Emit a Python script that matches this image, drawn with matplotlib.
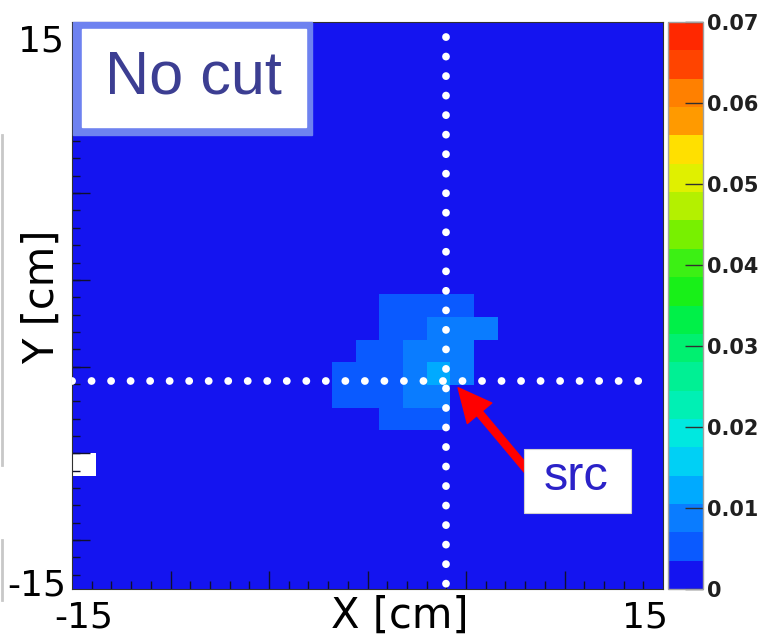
import numpy as np
import matplotlib as mpl
mpl.use('Agg')
import matplotlib.pyplot as plt
from matplotlib.colors import ListedColormap, BoundaryNorm
from matplotlib.patches import Rectangle
from matplotlib.lines import Line2D
from matplotlib.ticker import NullLocator

W, H = 759, 640

# 25 x 25 bins over [-15, 15] cm
edges = np.linspace(-15, 15, 26)

# content of the flat part of the map and of the one empty bin
background = 0.001
empty_x = [-14.4]
empty_y = [-8.4]

# raised bins near the source (bin centres in cm, content)
cell_x = [1.2, 2.4, 3.6, 4.8,
          1.2, 2.4, 3.6, 4.8, 6.0,
          0.0, 1.2, 2.4, 3.6, 4.8,
          -1.2, 0.0, 1.2, 2.4, 3.6, 4.8,
          -1.2, 0.0, 1.2, 2.4, 3.6,
          1.2, 2.4, 3.6]
cell_y = [0.0, 0.0, 0.0, 0.0,
          -1.2, -1.2, -1.2, -1.2, -1.2,
          -2.4, -2.4, -2.4, -2.4, -2.4,
          -3.6, -3.6, -3.6, -3.6, -3.6, -3.6,
          -4.8, -4.8, -4.8, -4.8, -4.8,
          -6.0, -6.0, -6.0]
cell_val = [0.005, 0.005, 0.005, 0.005,
            0.005, 0.005, 0.0085, 0.0085, 0.0085,
            0.005, 0.005, 0.0085, 0.0085, 0.0085,
            0.005, 0.005, 0.005, 0.0085, 0.0125, 0.0085,
            0.005, 0.005, 0.005, 0.0085, 0.0085,
            0.005, 0.005, 0.005]

src_x, src_y = 4.0, -4.0

palette = ['#1414f0', '#0a5aff', '#0a7cff', '#00aaff', '#00d0f5',
           '#00e8e0', '#00f0b4', '#00f094', '#00f070', '#00f048',
           '#18f018', '#3cf014', '#78f000', '#b4f000', '#e0f000',
           '#ffe000', '#ff9a00', '#ff8000', '#ff4400', '#ff2800']
levels = np.linspace(0, 0.07, 21)
cbar_ticks = [0, 0.01, 0.02, 0.03, 0.04, 0.05, 0.06, 0.07]
cbar_labels = ['0', '0.01', '0.02', '0.03', '0.04', '0.05', '0.06', '0.07']


def fx(px):
    return px / W


def fy(py):
    return 1 - py / H


plt.rcParams['font.family'] = 'DejaVu Sans'

hist = np.full((len(edges) - 1, len(edges) - 1), background)
for x, y, v in zip(cell_x, cell_y, cell_val):
    i = np.searchsorted(edges, x) - 1
    j = np.searchsorted(edges, y) - 1
    hist[j, i] = v
for x, y in zip(empty_x, empty_y):
    hist[np.searchsorted(edges, y) - 1, np.searchsorted(edges, x) - 1] = 0
hist = np.ma.masked_equal(hist, 0)

cmap = ListedColormap(palette)
norm = BoundaryNorm(levels, cmap.N)

fig = plt.figure(figsize=(W / 100, H / 100), dpi=100)
ax = fig.add_axes([fx(72), fy(589), fx(663) - fx(72), fy(22) - fy(589)])
cax = fig.add_axes([fx(668), fy(589), fx(703) - fx(668), fy(22) - fy(589)])

ax.set_facecolor('white')
mesh = ax.pcolormesh(edges, edges, hist, cmap=cmap, norm=norm)
ax.set_xlim(-15, 15)
ax.set_ylim(-15, 15)

# ticks drawn inside the frame, no labels on them
ax.set_xticks(np.arange(-10, 11, 5))
ax.set_xticks(np.arange(-14, 15, 1), minor=True)
y_major = [-12.41, -7.83, -3.25, 1.35, 5.95, 10.54]
ax.set_yticks(y_major)
ax.set_yticks(np.arange(-14.25, 15, 0.918), minor=True)
ax.tick_params(which='both', direction='in', labelbottom=False,
               labelleft=False, color='#101030', width=1)
ax.tick_params(which='major', length=13)
ax.tick_params(which='minor', length=6)
for s in ax.spines.values():
    s.set_color('#303030')
    s.set_linewidth(0.8)

# dotted cross through the source position
dots = dict(color='white', lw=5.6, linestyle=(0, (0.01, 2.5)),
            dash_capstyle='round', zorder=3)
ax.plot([src_x, src_x], [14.2, -15], **dots)
ax.plot([-15, 14.0], [src_y, src_y], **dots)

ax.annotate('', xy=(4.6, -4.35), xytext=(8.5, -9.2),
            arrowprops=dict(arrowstyle='simple,head_length=1.2,head_width=1.15,tail_width=0.26',
                            color='#ff0000', mutation_scale=20,
                            shrinkA=0, shrinkB=0), zorder=4)

# colour scale
cb = fig.colorbar(mesh, cax=cax, ticks=cbar_ticks, spacing='proportional')
cax.yaxis.set_minor_locator(NullLocator())
cb.set_ticklabels(cbar_labels, fontweight='bold', color='#202020')
cb.outline.set_edgecolor('#a0a0a0')
cb.outline.set_linewidth(1)
cax.tick_params(direction='in', length=13, width=1, color='#303030',
                labelsize=15, pad=3)

# "No cut" label box
fig.patches.append(Rectangle((fx(73), fy(135)), fx(312) - fx(73), fy(22) - fy(135),
                             transform=fig.transFigure, color='#6e82f0', zorder=5))
fig.patches.append(Rectangle((fx(82), fy(127)), fx(306) - fx(82), fy(29) - fy(127),
                             transform=fig.transFigure, color='white', zorder=6))
fig.text(fx(193), fy(78), 'No cut', family='Liberation Sans', fontsize=44,
         color='#3c3e92', ha='center', va='center', zorder=7)

# "src" label box
fig.patches.append(Rectangle((fx(524), fy(513)), fx(631) - fx(524), fy(449) - fy(513),
                             transform=fig.transFigure, facecolor='white',
                             edgecolor='#d0d0d0', lw=0.8, zorder=5))
fig.text(fx(576), fy(478), 'src', family='Liberation Sans', fontsize=35,
         color='#2b22c8', ha='center', va='center', zorder=7)

# axis labels and end values
lab = dict(fontsize=26, color='black', va='center')
fig.text(fx(64), fy(41), '15', ha='right', **lab)
fig.text(fx(66), fy(585), '-15', ha='right', **lab)
fig.text(fx(84), fy(617), '-15', ha='center', **lab)
fig.text(fx(645), fy(617), '15', ha='center', **lab)
fig.text(fx(400), fy(616), 'X [cm]', ha='center', fontsize=30, va='center')
fig.text(fx(42), fy(297), 'Y [cm]', ha='center', fontsize=30, va='center',
         rotation=90)

# edge of the neighbouring panel
for y0, y1 in [(135, 465), (540, 600)]:
    fig.lines.append(Line2D([fx(2), fx(2)], [fy(y0), fy(y1)],
                            transform=fig.transFigure, color='#c8c8c8', lw=2))

fig.savefig('out.png', dpi=100)
